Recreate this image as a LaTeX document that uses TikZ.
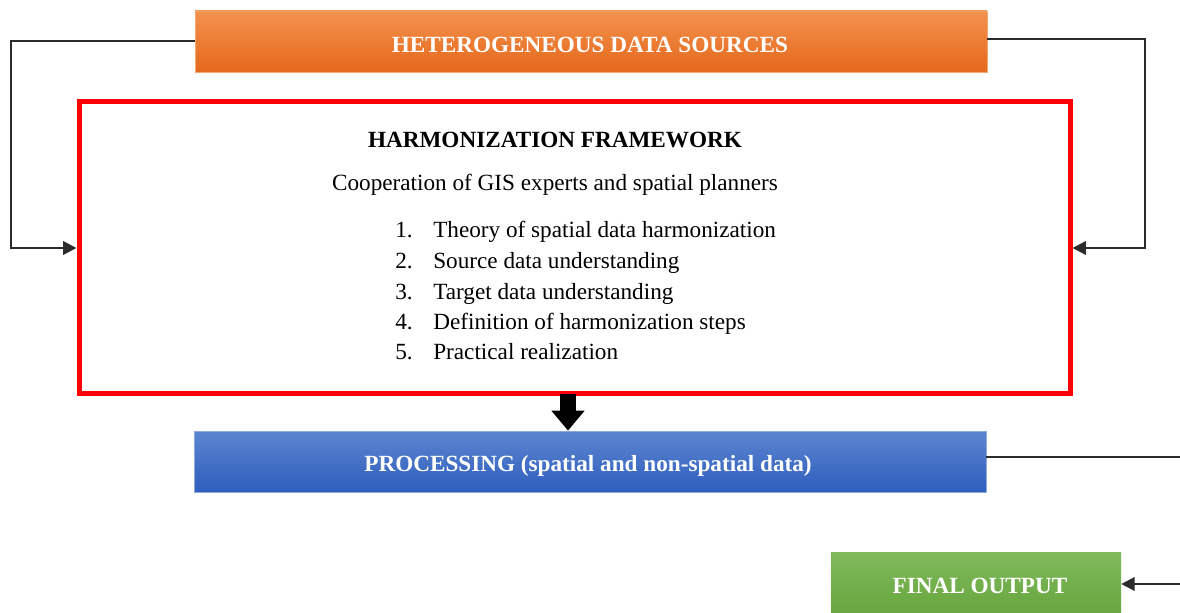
\documentclass[tikz,border=0pt]{standalone}
\usepackage{fontspec}
\setmainfont{Liberation Serif}
\usetikzlibrary{arrows.meta}
\definecolor{orT}{HTML}{F3914E}
\definecolor{orB}{HTML}{E5691B}
\definecolor{blT}{HTML}{5D85D0}
\definecolor{blB}{HTML}{2E5EBD}
\definecolor{grT}{HTML}{80B95B}
\definecolor{grB}{HTML}{62A238}
\definecolor{lineC}{HTML}{2B2B2B}
\begin{document}
\begin{tikzpicture}[x=0.75pt,y=-0.75pt,
  bar/.style={minimum width=792*0.75pt,minimum height=61*0.75pt,inner sep=0pt},
  conn/.style={draw=lineC,line width=1.8pt},
  tip/.style={-{Triangle[length=10pt,width=10pt]}},
  txt/.style={inner sep=0pt,font=\fontsize{17.4pt}{20pt}\selectfont},
  btxt/.style={txt,font=\fontsize{17.4pt}{20pt}\selectfont\bfseries},
  wtxt/.style={btxt,text=white},
  num/.style={txt,anchor=base west}]
\clip (0,0) rectangle (1180,613);
\fill[white] (0,0) rectangle (1180,613);
\node[bar,top color=orT,bottom color=orB,draw=orT!80!white,line width=0.5pt] (src) at (591,41.5) {};
\node[wtxt] (srcl) at (590,45) {HETEROGENEOUS DATA SOURCES};
\node[draw=red,line width=3.75pt,minimum width=991*0.75pt,minimum height=291*0.75pt,inner sep=0pt] (hf) at (574.5,247.5) {};
\node[btxt] (title) at (555,140) {HARMONIZATION FRAMEWORK};
\node[txt] (coop) at (555,185) {Cooperation of GIS experts and spatial planners};
\node[num] (n1) at (395,237) {1.};
\node[num] (t1) at (433,237) {Theory of spatial data harmonization};
\node[num] (n2) at (395,268) {2.};
\node[num] (t2) at (433,268) {Source data understanding};
\node[num] (n3) at (395,299) {3.};
\node[num] (t3) at (433,299) {Target data understanding};
\node[num] (n4) at (395,329) {4.};
\node[num] (t4) at (433,329) {Definition of harmonization steps};
\node[num] (n5) at (395,359) {5.};
\node[num] (t5) at (433,359) {Practical realization};
\node[bar,top color=blT,bottom color=blB,draw=blT!70!white,line width=0.5pt] (proc) at (590,461.5) {};
\node[wtxt] (procl) at (588,466) {PROCESSING (spatial and non-spatial data)};
\node[bar,minimum width=290*0.75pt,minimum height=76*0.75pt,top color=grT,bottom color=grB] (out) at (976,590) {};
\node[wtxt] (outl) at (980,586) {FINAL OUTPUT};
\coordinate (r1) at (1180,457);
\coordinate (r2) at (1180,584);
% connectors
\draw[conn,tip] (src.west |- 0,41) -- (11,41) -- (11,248) -- (hf.west |- 0,248);
\draw[conn,tip] (src.east |- 0,39) -- (1145,39) -- (1145,248) -- (hf.east |- 0,248);
\draw[line width=12.5pt,-{Triangle[length=15pt,width=24pt]}] (568,394) -- (proc.north -| 568,0);
\draw[conn] (proc.east |- 0,457) -- (r1);
\draw[conn,tip] (r2) -- (out.east |- 0,584);
\end{tikzpicture}
\end{document}
